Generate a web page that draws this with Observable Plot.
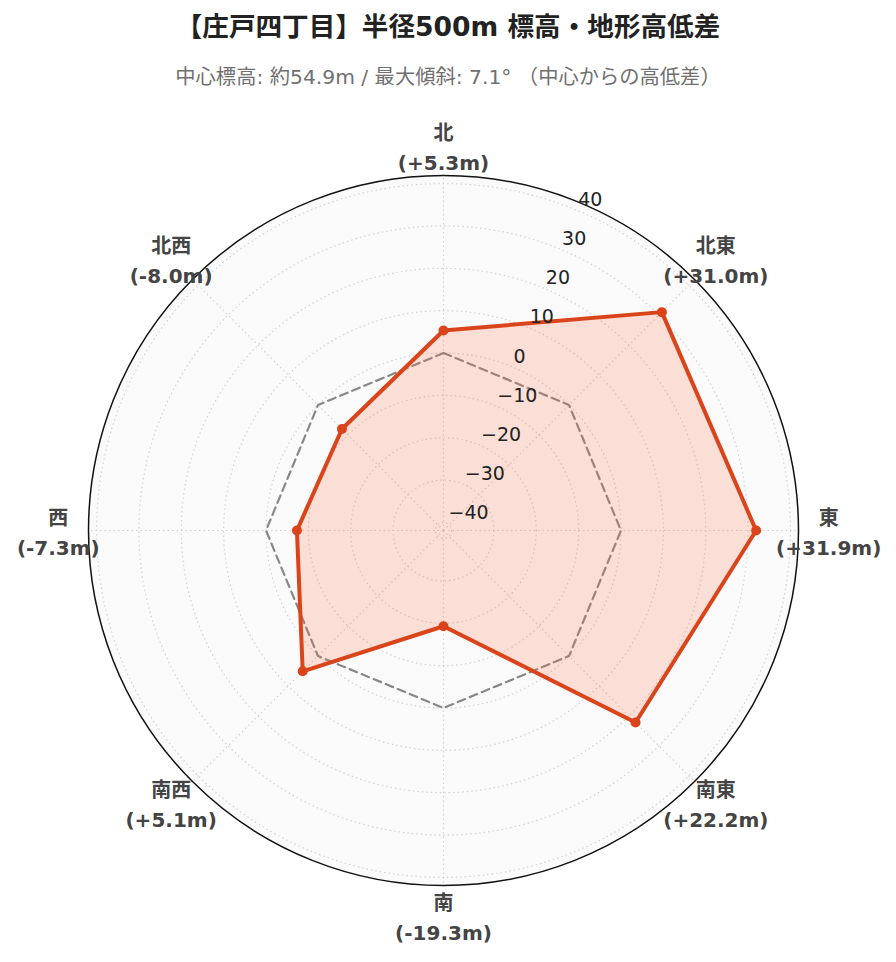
<!DOCTYPE html>
<html>
<head>
<meta charset="utf-8">
<script src="https://cdn.jsdelivr.net/npm/d3@7"></script>
<script src="https://cdn.jsdelivr.net/npm/@observablehq/plot@0.6"></script>
<style>
  body { margin: 0; background: #fff; }
  #wrap { position: relative; width: 896px; height: 962px; overflow: hidden; }
  #title { position: absolute; top: 0; left: 0; width: 896px; height: 54px; line-height: 54px; text-align: center;
           font-family: "DejaVu Sans", "Noto Sans CJK JP", sans-serif; font-weight: bold; font-size: 26.6px; color: #222; }
  #subtitle { position: absolute; top: 57px; left: 0; width: 896px; height: 40px; line-height: 40px; text-align: center;
           font-family: "DejaVu Sans", "Noto Sans CJK JP", sans-serif; font-size: 20.3px; color: #707070; }
  #chart { position: absolute; top: 100px; left: 0; }
</style>
</head>
<body>
<div id="wrap">
  <div id="title">【庄戸四丁目】半径500m 標高・地形高低差</div>
  <div id="subtitle">中心標高: 約54.9m / 最大傾斜: 7.1° （中心からの高低差）</div>
  <div id="chart"></div>
</div>
<script>
// ---- data ----
const directions = ["北", "北東", "東", "南東", "南", "南西", "西", "北西"];
const bearings = [0, 45, 90, 135, 180, 225, 270, 315];
const diffs = [5.3, 31.0, 31.9, 22.2, -19.3, 5.1, -7.3, -8.0];
const radialTicks = [-40, -30, -20, -10, 0, 10, 20, 30, 40];
const radialDomain = [-41.9, 41.9];
const tickAngle = 22.5;

// ---- helpers ----
const norm = d3.scaleLinear().domain(radialDomain).range([0, 1]);
const rad = b => b * Math.PI / 180;
const pts = directions.map((d, i) => ({dir: d, bearing: bearings[i], value: diffs[i]}));
const px = d => norm(d.value) * Math.sin(rad(d.bearing));
const py = d => norm(d.value) * Math.cos(rad(d.bearing));
const zeroRing = bearings.map(b => ({bearing: b, value: 0}));
const fmtTick = d3.format("");
const fmtDiff = v => `(${v >= 0 ? "+" : "-"}${Math.abs(v).toFixed(1)}m)`;
const labelR = 1.085;

const lineColor = "#d9441a";
const gridColor = "#d4d4d4";

const chart = Plot.plot({
  width: 896,
  height: 862,
  marginLeft: 88,
  marginRight: 98,
  marginTop: 75,
  marginBottom: 77,
  x: {domain: [-1, 1], axis: null},
  y: {domain: [-1, 1], axis: null},
  r: {type: "linear", domain: [0, 1], range: [0, 355]},
  style: {background: "transparent", fontFamily: "'DejaVu Sans', 'Noto Sans CJK JP', sans-serif", overflow: "visible"},
  marks: [
    // polar background
    Plot.dot([1], {x: 0, y: 0, r: d => d, fill: "#fafafa", stroke: "none"}),
    // radial grid rings
    Plot.dot(radialTicks, {x: 0, y: 0, r: v => norm(v), fill: "none", stroke: gridColor, strokeWidth: 1.2, strokeDasharray: "1.5,3"}),
    // angular spokes
    Plot.link(bearings, {x1: 0, y1: 0, x2: b => Math.sin(rad(b)), y2: b => Math.cos(rad(b)), stroke: gridColor, strokeWidth: 1.2, strokeDasharray: "1.5,3"}),
    // zero reference
    Plot.line(zeroRing, {x: px, y: py, curve: "linear-closed", stroke: "#888", strokeWidth: 2.2, strokeDasharray: "8,5"}),
    // data polygon
    Plot.line(pts, {x: px, y: py, curve: "linear-closed", fill: "rgba(255,112,67,0.2)", stroke: lineColor, strokeWidth: 4, strokeLinejoin: "round"}),
    Plot.dot(pts, {x: px, y: py, r: 5, fill: lineColor, stroke: "none"}),
    // outer boundary
    Plot.dot([1], {x: 0, y: 0, r: d => d, fill: "none", stroke: "#111", strokeWidth: 1.5}),
    // radial tick labels
    Plot.text(radialTicks, {
      x: v => norm(v) * Math.sin(rad(tickAngle)),
      y: v => norm(v) * Math.cos(rad(tickAngle)),
      text: v => fmtTick(v),
      textAnchor: "start", dx: 2, dy: -10,
      fontSize: 19, fill: "#222"
    }),
    // angular labels
    Plot.text(pts, {
      x: d => labelR * Math.sin(rad(d.bearing)),
      y: d => labelR * Math.cos(rad(d.bearing)),
      text: d => `${d.dir}\n${fmtDiff(d.value)}`,
      lineHeight: 1.5,
      fontSize: 20, fontWeight: "bold", fill: "#444"
    })
  ]
});
document.getElementById("chart").appendChild(chart);
</script>
</body>
</html>
